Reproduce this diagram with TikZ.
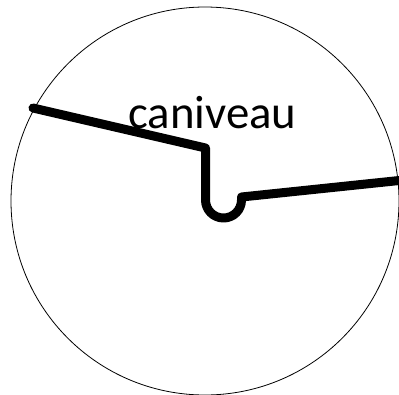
\documentclass[tikz,border=0pt]{standalone}
\usepackage{fontspec}
\setmainfont{Carlito}
\usetikzlibrary{calc}

\begin{document}
\begin{tikzpicture}[x=1pt,y=-1pt,
   rim/.style={draw,black,line width=0.8pt},
   gut/.style={draw,black,line width=9pt,line cap=round,line join=round},
   lab/.style={inner sep=0pt,anchor=base,font=\fontsize{46.8}{56}\selectfont}]
  \useasboundingbox (0,0) rectangle (399,394);
  \draw[rim] (205,201) circle[radius=194];
  % gutter profile
  \coordinate (l) at (33,108);
  \coordinate (k) at (205.5,148);
  \coordinate (d) at (205.5,200);
  \coordinate (u) at (241.5,197);
  \coordinate (r) at (404,180);
  \draw[gut] (l) -- (k) -- (d) arc[start angle=180,end angle=0,radius=18] -- (u) -- (r);
  \node[lab] (t) at (212.5,128) {caniveau};
\end{tikzpicture}
\end{document}
